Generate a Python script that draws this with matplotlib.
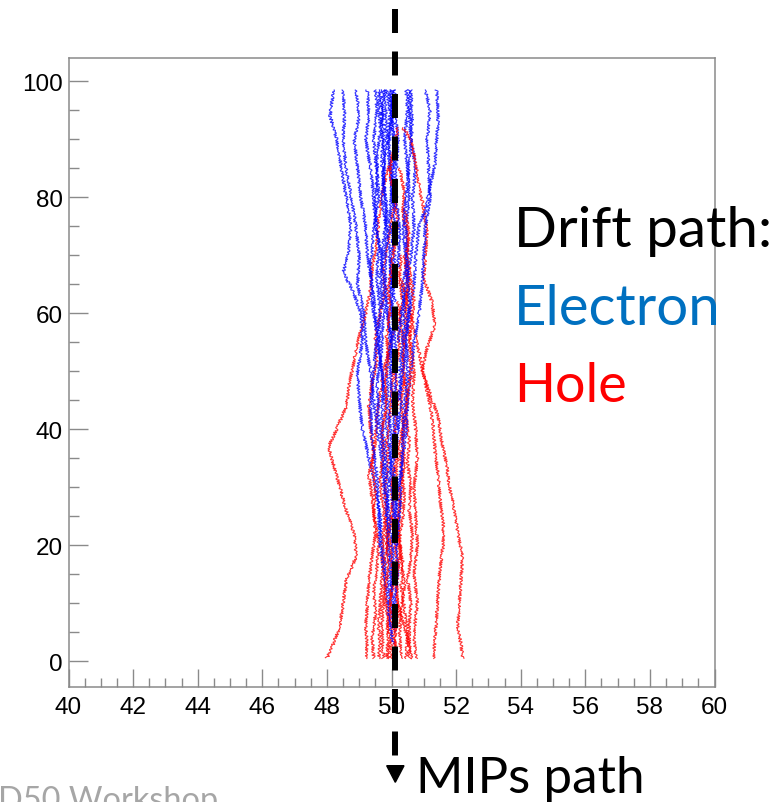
import matplotlib
matplotlib.use("Agg")
import matplotlib.pyplot as plt
from matplotlib.lines import Line2D
from matplotlib.patches import Polygon
from matplotlib.ticker import MultipleLocator

plt.rcParams['lines.scale_dashes'] = False

# ---------------- data: drift paths as (y, x) points ----------------
# electrons (blue): generated near x~50, drift up to y~98.5
e01 = [(5,50.1),(10,49.95),(15,49.85),(20,49.7),(25,49.65),(30,49.5),(35,49.3),(40,49.1),(45,49.0),(50,48.95),(55,49.1),(60,49.05),(64,48.8),(67,48.5),(70,48.65),(75,48.75),(80,48.6),(85,48.45),(90,48.3),(94,48.1),(98.5,48.2)]
e02 = [(15,50.05),(20,49.9),(25,49.85),(30,49.75),(35,49.7),(40,49.55),(45,49.45),(50,49.35),(55,49.2),(60,49.15),(65,48.95),(70,49.0),(75,48.9),(80,48.75),(85,48.6),(90,48.5),(94,48.55),(98.5,48.5)]
e03 = [(30,50.05),(35,49.95),(40,49.85),(45,49.8),(50,49.7),(55,49.6),(60,49.5),(65,49.4),(70,49.25),(75,49.2),(80,49.05),(85,48.95),(90,48.85),(94,49.0),(98.5,48.9)]
e04 = [(50,50.05),(55,50.0),(60,49.85),(65,49.75),(70,49.7),(75,49.5),(80,49.45),(85,49.35),(90,49.2),(94,49.3),(98.5,49.25)]
e05 = [(8,50.1),(12,50.0),(18,49.9),(24,49.85),(30,49.9),(36,49.8),(42,49.7),(48,49.75),(54,49.6),(60,49.65),(66,49.55),(72,49.6),(78,49.5),(84,49.55),(90,49.45),(95,49.55),(98.5,49.5)]
e06 = [(62,50.1),(68,49.95),(74,49.9),(80,49.8),(86,49.7),(92,49.75),(98.5,49.65)]
e07 = [(20,50.15),(26,50.05),(32,49.95),(38,50.0),(44,49.9),(50,49.85),(56,49.95),(62,49.85),(68,49.8),(74,49.85),(80,49.7),(86,49.8),(92,49.7),(98.5,49.75)]
e08 = [(78,50.1),(84,50.0),(90,49.9),(95,49.95),(98.5,49.85)]
e09 = [(40,50.2),(46,50.1),(52,50.15),(58,50.05),(64,50.0),(70,50.1),(76,49.95),(82,50.0),(88,49.9),(94,50.0),(98.5,49.95)]
e10 = [(10,50.1),(16,50.2),(22,50.1),(28,50.15),(34,50.05),(40,50.1),(46,50.0),(52,49.95),(58,50.05),(64,49.95),(70,50.0),(76,50.1),(82,50.0),(88,50.1),(94,50.0),(98.5,50.05)]
e11 = [(85,50.15),(90,50.2),(95,50.1),(98.5,50.1)]
e12 = [(3,50.05),(8,49.9),(14,49.8),(20,49.65),(26,49.6),(32,49.55),(38,49.4),(44,49.35),(50,49.45),(56,49.55),(62,49.4),(68,49.35),(74,49.45),(80,49.6),(86,49.55),(92,49.65),(98.5,49.6)]
e13 = [(35,50.1),(40,50.2),(45,50.3),(50,50.25),(55,50.35),(60,50.4),(65,50.35),(70,50.5),(75,50.45),(80,50.55),(85,50.5),(90,50.4),(95,50.5),(98.5,50.45)]
e14 = [(55,50.2),(60,50.3),(65,50.45),(70,50.6),(75,50.7),(80,50.65),(85,50.75),(90,50.6),(95,50.55),(98.5,50.55)]
e15 = [(25,50.1),(30,50.2),(35,50.35),(40,50.45),(45,50.5),(50,50.6),(55,50.7),(60,50.85),(65,50.95),(70,51.0),(75,51.05),(80,51.2),(85,51.15),(90,51.1),(95,51.2),(98.5,51.05)]
e16 = [(45,50.2),(50,50.35),(55,50.45),(60,50.55),(65,50.7),(70,50.75),(75,50.85),(78,51.05),(82,51.2),(86,51.35),(90,51.4),(94,51.45),(98.5,51.4)]
e17 = [(12,50.0),(18,50.05),(24,49.95),(30,49.8),(36,49.75),(42,49.6),(48,49.55),(54,49.7),(60,49.75),(66,49.65),(72,49.75),(78,49.85),(84,49.75),(90,49.85),(98.5,49.8)]
e18 = [(68,50.2),(74,50.25),(80,50.15),(86,50.1),(92,50.05),(98.5,50.0)]
e19 = [(20,50.15),(26,50.25),(32,50.3),(38,50.35),(44,50.4),(50,50.5),(56,50.45),(62,50.55),(68,50.5),(74,50.35),(80,50.45),(86,50.55),(92,50.65),(98.5,50.6)]

# holes (red): generated near x~50, drift down to y~0.5
h01 = [(88,50.1),(84,49.85),(80,49.7),(76,49.6),(72,49.55),(68,49.4),(64,49.35),(60,49.2),(56,49.0),(52,48.85),(48,48.7),(44,48.6),(40,48.3),(37,48.05),(34,48.2),(30,48.4),(26,48.6),(22,48.85),(18,48.9),(14,48.6),(10,48.5),(6,48.4),(3,48.2),(0.5,48.0)]
h02 = [(58,50.1),(54,49.95),(50,49.75),(46,49.65),(42,49.55),(38,49.5),(34,49.4),(30,49.5),(26,49.45),(22,49.5),(18,49.4),(14,49.3),(10,49.25),(6,49.2),(3,49.25),(0.5,49.2)]
h03 = [(80,50.15),(76,50.0),(72,49.9),(68,49.75),(64,49.8),(60,49.65),(56,49.5),(52,49.55),(48,49.4),(44,49.3),(40,49.35),(36,49.45),(32,49.3),(28,49.4),(24,49.5),(20,49.6),(16,49.55),(12,49.45),(8,49.5),(4,49.4),(0.5,49.45)]
h04 = [(30,50.1),(26,50.0),(22,49.9),(18,49.8),(14,49.7),(10,49.65),(6,49.6),(3,49.65),(0.5,49.6)]
h05 = [(50,50.05),(46,50.0),(42,49.95),(38,49.85),(34,49.9),(30,49.8),(26,49.85),(22,49.75),(18,49.7),(14,49.8),(10,49.75),(6,49.7),(0.5,49.75)]
h06 = [(15,50.1),(12,50.0),(9,49.95),(6,49.9),(3,49.95),(0.5,49.9)]
h07 = [(70,50.3),(66,50.25),(62,50.35),(58,50.2),(54,50.25),(50,50.1),(46,50.2),(42,50.15),(38,50.05),(34,50.1),(30,50.0),(26,50.05),(22,49.95),(18,50.0),(14,50.05),(10,49.95),(6,50.0),(0.5,50.0)]
h08 = [(40,50.1),(36,50.2),(32,50.15),(28,50.25),(24,50.2),(20,50.1),(16,50.2),(12,50.15),(8,50.2),(4,50.1),(0.5,50.15)]
h09 = [(85,50.25),(81,50.4),(77,50.35),(73,50.5),(69,50.45),(65,50.55),(61,50.4),(57,50.45),(53,50.35),(49,50.4),(45,50.3),(41,50.35),(37,50.25),(33,50.3),(29,50.4),(25,50.35),(21,50.25),(17,50.3),(13,50.4),(9,50.3),(5,50.25),(0.5,50.3)]
h10 = [(25,50.15),(21,50.25),(17,50.35),(13,50.3),(9,50.4),(5,50.5),(0.5,50.45)]
h11 = [(62,50.2),(58,50.3),(54,50.4),(50,50.35),(46,50.5),(42,50.45),(38,50.55),(34,50.5),(30,50.6),(26,50.55),(22,50.65),(18,50.6),(14,50.5),(10,50.6),(6,50.55),(0.5,50.55)]
h12 = [(10,50.2),(7,50.35),(4,50.5),(0.5,50.65)]
h13 = [(70,50.4),(65,50.5),(60,50.45),(55,50.6),(50,50.7),(45,50.65),(40,50.75),(35,50.8),(30,50.7),(25,50.75),(20,50.8),(15,50.7),(10,50.8),(5,50.7),(0.5,50.75)]
h14 = [(66,50.3),(60,50.6),(56,50.75),(52,50.9),(48,51.05),(44,51.2),(40,51.3),(36,51.35),(32,51.45),(28,51.5),(24,51.6),(20,51.6),(16,51.5),(12,51.45),(8,51.4),(4,51.35),(0.5,51.3)]
h15 = [(92,50.35),(90,50.6),(86,50.75),(82,50.85),(78,51.0),(74,51.1),(70,51.05),(66,51.0),(62,51.25),(58,51.35),(54,51.1),(50,50.95),(46,51.2),(42,51.45),(38,51.55),(34,51.7),(30,51.8),(26,51.95),(22,52.05),(18,52.2),(14,52.15),(10,52.1),(6,52.05),(3,52.15),(0.5,52.2)]
h16 = [(92,50.2),(88,50.05),(84,49.95),(80,50.1),(76,50.2),(72,50.1),(68,50.0),(64,49.9),(60,49.95),(56,49.85),(52,49.9),(48,49.8),(44,49.85),(40,49.7),(36,49.75),(32,49.65),(28,49.7),(24,49.8),(20,49.85),(16,49.9),(12,49.8),(8,49.85),(4,49.9),(0.5,49.85)]
h17 = [(78,50.4),(74,50.55),(70,50.5),(66,50.6),(62,50.7),(58,50.6),(54,50.55),(50,50.6),(46,50.5),(42,50.4),(38,50.35),(34,50.4),(30,50.3),(26,50.25),(22,50.2),(18,50.25),(14,50.15),(10,50.2),(6,50.1),(0.5,50.1)]

electrons = [e01, e02, e03, e04, e05, e06, e07, e08, e09, e10, e11, e12, e13, e14, e15, e16, e17, e18, e19]
holes = [h01, h02, h03, h04, h05, h06, h07, h08, h09, h10, h11, h12, h13, h14, h15, h16, h17]

x_ticks = [40, 42, 44, 46, 48, 50, 52, 54, 56, 58, 60]
y_ticks = [0, 20, 40, 60, 80, 100]

# ---------------- figure ----------------
W, H = 783, 803
fig = plt.figure(figsize=(W / 100, H / 100), dpi=100)

def fx(px):
    return px / W

def fy(py):
    return 1 - py / H

ax = fig.add_axes([fx(68.5), fy(687.7), fx(714.5) - fx(68.5), fy(59.3) - fy(687.7)])
ax.set_xlim(40, 60)
ax.set_ylim(-4.38, 103.96)

def draw_path(p, color):
    ys = [q[0] for q in p]
    xs = [q[1] for q in p]
    ln, = ax.plot(xs, ys, color=color, lw=0.8, alpha=0.8, solid_joinstyle='miter')
    ln.set_sketch_params(scale=1.7, length=3, randomness=2)

n = max(len(electrons), len(holes))
for i in range(n):
    if i < len(holes):
        draw_path(holes[i], '#ff0000')
    if i < len(electrons):
        draw_path(electrons[i], '#0000ff')

gray = '#8a8a8a'
for s in ax.spines.values():
    s.set_color(gray)
    s.set_linewidth(1.1)

ax.set_xticks(x_ticks)
ax.set_yticks(y_ticks)
ax.xaxis.set_minor_locator(MultipleLocator(0.5))
ax.yaxis.set_minor_locator(MultipleLocator(5))
ax.tick_params(axis='x', which='major', direction='in', length=13, width=1.0,
               color=gray, top=False, pad=6.5, labelsize=17.5)
ax.tick_params(axis='x', which='minor', direction='in', length=6.5, width=1.0,
               color=gray, top=False)
ax.tick_params(axis='y', which='major', direction='in', length=13.7, width=1.0,
               color=gray, right=False, pad=4, labelsize=17.5)
ax.tick_params(axis='y', which='minor', direction='in', length=7, width=1.0,
               color=gray, right=False)
for lab in ax.get_xticklabels() + ax.get_yticklabels():
    lab.set_fontfamily('Liberation Sans')

# ---------------- annotations ----------------
font = 'Lato'
t1 = fig.text(fx(514), fy(247), 'Drift path:', color='black', fontsize=40,
              family=font, ha='left', va='baseline')
t2 = fig.text(fx(514), fy(325), 'Electron', color='#0070C0', fontsize=40,
              family=font, ha='left', va='baseline')
t3 = fig.text(fx(514), fy(402), 'Hole', color='#FF0000', fontsize=40,
              family=font, ha='left', va='baseline')
t4 = fig.text(fx(416), fy(793), 'MIPs path', color='black', fontsize=40,
              family=font, ha='left', va='baseline')
t5 = fig.text(fx(-2), fy(810), 'D50 Workshop', color='#a6a6a6', fontsize=26,
              family=font, ha='left', va='baseline')

fig.canvas.draw()
r = fig.canvas.get_renderer()
for t, target in [(t1, 258), (t2, 207), (t3, 113), (t4, 229), (t5, 220)]:
    w = t.get_window_extent(r).width
    t.set_fontsize(t.get_fontsize() * target / w)

# dashed MIP line with arrow head
mip = Line2D([fx(395.3), fx(395.3)], [fy(10), fy(757)], transform=fig.transFigure,
             color='black', lw=4.3, dashes=(24 * 0.72, 18.5 * 0.72),
             dash_capstyle='butt', solid_capstyle='butt', zorder=10)
fig.add_artist(mip)
tri = Polygon([(fx(386.7), fy(766.7)), (fx(404), fy(766.7)), (fx(395.3), fy(783.3))],
              closed=True, transform=fig.transFigure, color='black', zorder=10)
fig.add_artist(tri)

fig.savefig('out.png', dpi=100)
